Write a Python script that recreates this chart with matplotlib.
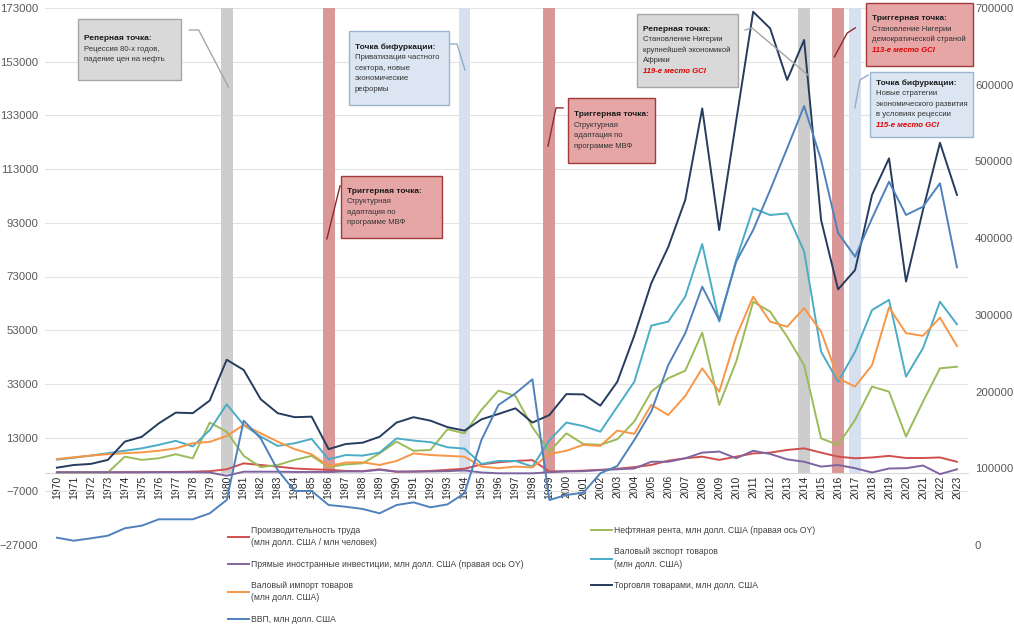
import matplotlib

matplotlib.use("Agg")
import matplotlib.pyplot as plt
from matplotlib.patches import Rectangle
from matplotlib.lines import Line2D

plt.rcParams["font.family"] = ["Liberation Sans Narrow", "Liberation Sans", "DejaVu Sans"]

years = list(range(1970, 2024))

productivity = [100, 100, 100, 100, 100, 100, 200, 200, 300, 500,
                1200, 3400, 2800, 2200, 1500, 1200, 1000, 600, 500, 1200,
                300, 400, 600, 1000, 1400, 3000, 3800, 4300, 4600, 400,
                500, 700, 1000, 1400, 2000, 2800, 4400, 5300, 5900, 4700,
                5900, 7100, 7400, 8400, 9000, 7400, 5900, 5300, 5600, 6200,
                5400, 5400, 5600, 4000]

oil_rent = [0, 0, 0, 0, 5900, 4700, 5300, 6800, 5300, 18600,
            15200, 6200, 2000, 2800, 4700, 6200, 2000, 3000, 3400, 7100,
            11500, 8100, 8400, 16100, 14600, 23300, 30500, 28500, 16900, 7800,
            14600, 10600, 10300, 12400, 19000, 30100, 35100, 37900, 52100, 25200,
            41300, 63600, 59900, 50600, 40000, 12700, 10300, 19600, 32000, 30100,
            13400, 26400, 38800, 39400]

fdi = [100, 100, 100, 100, 100, 100, 100, 100, 100, 0,
       -1200, 300, 300, 300, 200, 200, 200, 400, 400, 1000,
       300, 300, 400, 500, 800, 0, -300, -300, -300, 100,
       400, 500, 900, 1200, 1500, 4000, 4000, 5300, 7400, 7800,
       5300, 8100, 6900, 4900, 4000, 2200, 2800, 1600, 0, 1500,
       1600, 2600, -600, 1200]

exports = [4800, 5500, 6300, 7200, 8100, 9000, 10300, 11800, 9700, 15800,
           25400, 17700, 13400, 9900, 10900, 12500, 4900, 6500, 6300, 7400,
           12700, 11900, 11300, 9400, 8900, 3200, 4300, 4300, 2200, 12000,
           18600, 17300, 15200, 24500, 33800, 54700, 56200, 65500, 85100, 56200,
           79200, 98400, 95900, 96500, 82300, 45000, 33800, 45000, 60500, 64300,
           35700, 46300, 63600, 55200]

imports = [5000, 5700, 6300, 6800, 7200, 7500, 8100, 9000, 10900, 11400,
           13600, 17700, 14600, 11500, 8700, 6800, 2400, 3700, 3800, 2800,
           4300, 7100, 6500, 6200, 5900, 2200, 1600, 2200, 1900, 6900,
           8100, 10300, 9900, 15600, 14400, 25200, 21400, 28500, 38800, 30100,
           50600, 65500, 56200, 54300, 61200, 52500, 35100, 32000, 40000, 61500,
           51900, 50900, 57700, 47100]

trade = [1800, 2800, 3200, 4700, 11500, 13300, 18300, 22300, 22100, 26800,
         42000, 38200, 27300, 22100, 20600, 20800, 8700, 10600, 11100, 13300,
         18600, 20600, 19300, 16900, 15600, 19800, 21800, 23900, 18600, 21400,
         29200, 29100, 24900, 33800, 51000, 70500, 84000, 101500, 135600, 90300,
         131000, 171600, 165400, 146200, 161100, 94000, 68200, 75400, 103400, 117000,
         71100, 97800, 122800, 103400]

gdp = [9500, 5600, 8700, 12100, 21800, 25200, 33500, 33500, 33500, 41300,
       58700, 162000, 139000, 97800, 70400, 70400, 52100, 49900, 47000, 41300,
       52100, 55600, 49100, 53000, 67400, 136900, 182500, 197700, 216000, 58700,
       65200, 68200, 93500, 103000, 136900, 174000, 234600, 276000, 336700, 293300,
       369300, 410600, 462700, 517100, 572200, 501800, 406700, 375800, 425800, 473600,
       430200, 441000, 471500, 362000]

band_years = [1980, 1986, 1994, 1999, 2014, 2016, 2017]
band_kinds = ["ref", "trig", "bif", "trig", "ref", "trig", "bif"]

FILL = {"ref": "#D9D9D9", "trig": "#E6A6A6", "bif": "#DCE6F2"}
EDGE = {"ref": "#A6A6A6", "trig": "#A33A3A", "bif": "#9DB4D0"}
BAND = {"ref": "#CDCDCD", "trig": "#D99897", "bif": "#D6E0EE"}
LEADER = {"ref": "#A6A6A6", "trig": "#8E2A2A", "bif": "#93ACCB"}

W, H = 1014, 631
fig = plt.figure(figsize=(W / 100, H / 100), dpi=100, facecolor="white")
ax = fig.add_axes([45 / W, 1 - 545 / H, (968 - 45) / W, (545 - 8) / H])
ax2 = ax.twinx()

# category axis crosses the left axis at zero, as in the source chart
for name in ["top", "left", "right"]:
    ax.spines[name].set_visible(False)
    ax2.spines[name].set_visible(False)
ax2.spines["bottom"].set_visible(False)
ax.spines["bottom"].set_position(("data", 0))
ax.spines["bottom"].set_color("#D9D9D9")

ax.set_xlim(1969.3, 2023.65)
ax.set_ylim(-27000, 173000)
ax2.set_ylim(0, 700000)

ax.bar(band_years, 173000, width=0.7, bottom=0,
       color=[BAND[k] for k in band_kinds], zorder=1)

lw = 1.4
h_prod, = ax.plot(years, productivity, color="#D0504D", lw=lw, zorder=3)
h_oil, = ax.plot(years, oil_rent, color="#9BBB59", lw=lw, zorder=3)
h_fdi, = ax.plot(years, fdi, color="#8064A2", lw=lw, zorder=3)
h_exp, = ax.plot(years, exports, color="#4BACC6", lw=lw, zorder=3)
h_imp, = ax.plot(years, imports, color="#F79646", lw=lw, zorder=3)
h_trade, = ax.plot(years, trade, color="#263C5E", lw=lw, zorder=3)
h_gdp, = ax2.plot(years, gdp, color="#4F81BD", lw=lw, zorder=3)

ax.set_yticks(range(-27000, 173001, 20000))
ax2.set_yticks(range(0, 700001, 100000))
ax.yaxis.grid(True, color="#E3E3E3", lw=0.8, zorder=0)
ax.set_axisbelow(True)
ax.set_xticks(years)
ax.set_xticklabels([str(y) for y in years])
ax.tick_params(axis="x", length=0, pad=2, labelrotation=90, labelsize=7.5, labelcolor="#262626")
ax.tick_params(axis="y", length=0, labelsize=8.2, labelcolor="#595959", pad=5)
ax2.tick_params(axis="y", length=0, labelsize=8.2, labelcolor="#595959", pad=5)


def callout(kind, x0, x1, y_top, y_bot, title, body, gci=None, leader=None):
    ax2.add_patch(Rectangle((x0, y_bot), x1 - x0, y_top - y_bot, transform=ax.transData,
                            facecolor=FILL[kind], edgecolor=EDGE[kind], lw=1.0,
                            clip_on=False, zorder=5))
    lines = [(title, "bold", "normal", "#1A1A1A", 6.0)]
    lines += [(b, "normal", "normal", "#333333", 5.6) for b in body]
    if gci:
        lines.append((gci, "bold", "italic", "#E00000", 5.6))
    pitch = 10.5
    yc = (y_top + y_bot) / 2
    start = pitch * (len(lines) - 1) / 2
    for i, (txt, wt, st, col, fs) in enumerate(lines):
        ax2.annotate(txt, xy=(x0, yc), xycoords=ax.transData, xytext=(6, start - i * pitch),
                     textcoords="offset pixels", ha="left", va="center", fontsize=fs,
                     fontweight=wt, fontstyle=st, color=col, zorder=6, annotation_clip=False)
    if leader:
        lx, ly = zip(*leader)
        ax2.add_line(Line2D(lx, ly, transform=ax.transData, color=LEADER[kind], lw=1.0,
                            clip_on=False, zorder=4))


callout("ref", 1971.24, 1977.3, 168900, 146200, "Реперная точка:",
        ["Рецессия 80-х годов,", "падение цен на нефть"],
        leader=[(1977.8, 164800), (1978.35, 164800), (1980.1, 143600)])
callout("trig", 1986.73, 1992.67, 110400, 87300, "Триггерная точка:",
        ["Структурная", "адаптация по", "программе МВФ"],
        leader=[(1985.9, 87000), (1986.67, 106700), (1987.08, 106700)])
callout("bif", 1987.2, 1993.09, 164400, 136900, "Точка бифуркации:",
        ["Приватизация частного", "сектора, новые", "экономические", "реформы"],
        leader=[(1993.2, 159600), (1993.56, 159600), (1994.03, 149900)])
callout("trig", 2000.09, 2005.22, 139500, 115300, "Триггерная точка:",
        ["Структурная", "адаптация по", "программе МВФ"],
        leader=[(1998.92, 121600), (1999.39, 135800), (1999.8, 135800)])
callout("ref", 2004.16, 2010.11, 170800, 143600, "Реперная точка:",
        ["Становление Нигерии", "крупнейшей экономикой", "Африки"], gci="119-е место GCI",
        leader=[(2010.52, 164800), (2010.93, 165600), (2014.23, 148000)])
callout("trig", 2017.64, 2023.95, 174900, 151400, "Триггерная точка:",
        ["Становление Нигерии", "демократической страной"], gci="113-е место GCI",
        leader=[(2015.78, 154800), (2016.54, 163700), (2017.01, 165600)])
callout("bif", 2017.88, 2023.95, 149200, 125000, "Точка бифуркации:",
        ["Новые стратегии", "экономического развития", "в условиях рецессии"],
        gci="115-е место GCI",
        leader=[(2016.99, 135800), (2017.29, 146200), (2017.76, 148000)])

leg_kw = dict(loc="upper left", frameon=False, fontsize=6.2, handlelength=2.4,
              handletextpad=0.25, labelspacing=1.45, borderaxespad=0, borderpad=0)
leg1 = fig.legend([h_prod, h_fdi, h_imp, h_gdp],
                  ["Производительность труда\n(млн долл. США / млн человек)",
                   "Прямые иностранные инвестиции, млн долл. США (правая ось OY)",
                   "Валовый импорт товаров\n(млн долл. США)",
                   "ВВП, млн долл. США"],
                  bbox_to_anchor=(228 / W, 1 - 526 / H), **leg_kw)
leg2 = fig.legend([h_oil, h_exp, h_trade],
                  ["Нефтяная рента, млн долл. США (правая ось OY)",
                   "Валовый экспорт товаров\n(млн долл. США)",
                   "Торговля товарами, млн долл. США"],
                  bbox_to_anchor=(591 / W, 1 - 526 / H), **leg_kw)
for leg in (leg1, leg2):
    for t in leg.get_texts():
        t.set_color("#404040")
        t.set_linespacing(1.45)

fig.savefig("out.png", dpi=100, facecolor="white")
